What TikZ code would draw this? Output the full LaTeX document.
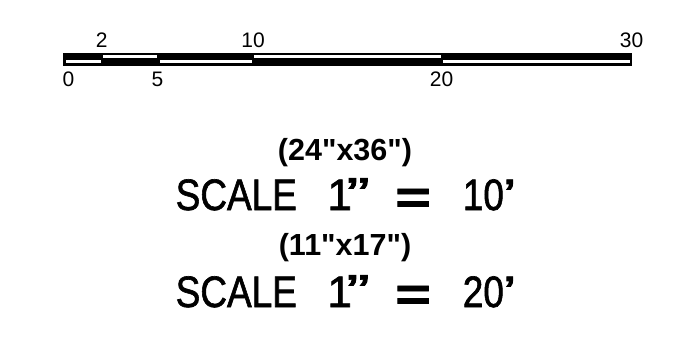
\documentclass[tikz,border=0pt]{standalone}
\usepackage{fontspec}
\setmainfont{Liberation Sans}
\newfontfamily\parfont{Liberation Sans}[Ligatures=TeXOff]
\newfontfamily\bigfont{Liberation Sans}[FakeBold=1.5]
\usepackage{graphicx}
\newcommand{\scaleline}[1]{\scalebox{0.84}[1]{SCALE}\hspace{30.5pt}1\hspace{-5.5pt}\scalebox{1.6}[1.05]{”}\hspace{25.5pt}\raisebox{-3pt}{\scalebox{1.38}[1.05]{\bfseries =}}\hspace{32pt}\scalebox{0.84}[1]{#1}\hspace{-1pt}\scalebox{1.4}[1]{’}}
\begin{document}
\begin{tikzpicture}[x=1pt,y=-1pt,
  lbl/.style={inner sep=0pt,anchor=base,font=\fontsize{21}{21}\selectfont},
  big/.style={inner sep=0pt,anchor=base west,font=\bigfont\fontsize{44}{44}\selectfont},
  paren/.style={inner sep=0pt,anchor=base,font=\parfont\bfseries\fontsize{30.5}{30.5}\selectfont},
  strip/.style={fill=white}]
\useasboundingbox[fill=white] (0,0) rectangle (692,345);
% scale bar
\fill[black] (62.5,52.5) rectangle (632,65.5);
\fill[strip] (103,55) rectangle (157,57.5);
\fill[strip] (254,55) rectangle (441,57.5);
\fill[strip] (65.5,60) rectangle (100.5,63);
\fill[strip] (160,60) rectangle (252,63);
\fill[strip] (443,60) rectangle (630,63);
% labels
\node[lbl] (l2) at (101.7,48) {2};
\node[lbl] (l10) at (253,48) {10};
\node[lbl] (l30) at (631.5,48) {30};
\node[lbl,anchor=base west] (l0) at (62.5,86.5) {0};
\node[lbl] (l5) at (157.5,86.5) {5};
\node[lbl] (l20) at (441.5,86.5) {20};
% texts
\node[paren] (p1) at (345,160) {(24"x36")};
\node[big] (s1) at (175.5,210) {\scaleline{10}};
\node[paren] (p2) at (345,255) {(11"x17")};
\node[big] (s2) at (175.5,307) {\scaleline{20}};
\end{tikzpicture}
\end{document}
